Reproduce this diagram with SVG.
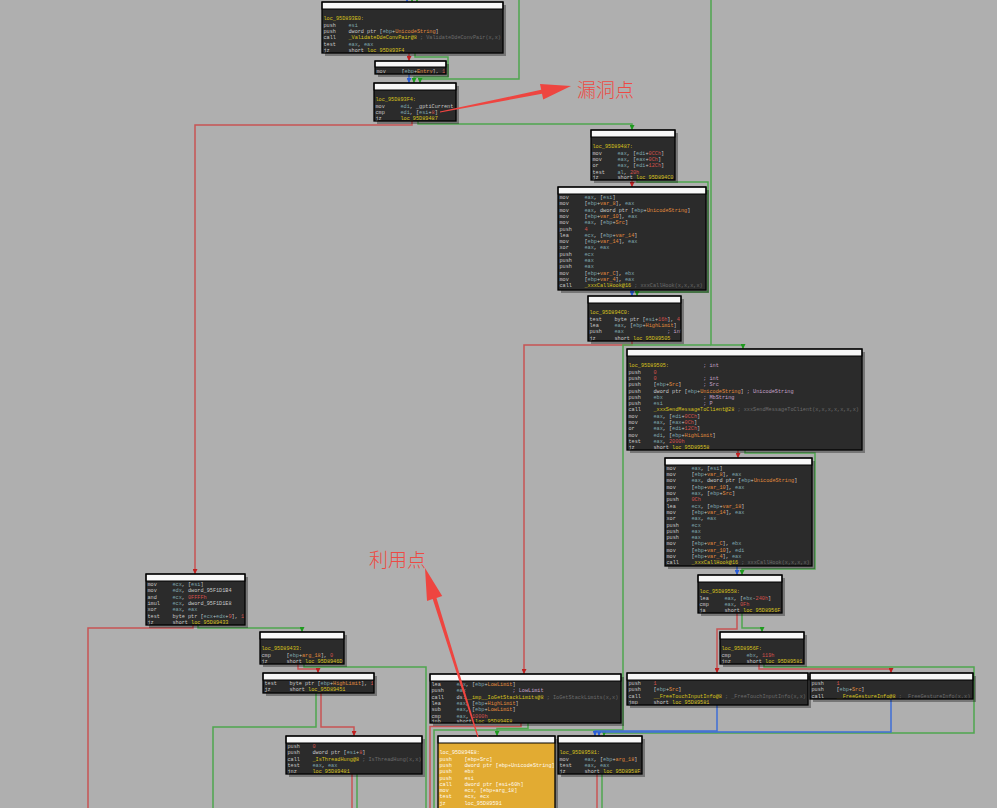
<svg xmlns="http://www.w3.org/2000/svg" width="997" height="808" viewBox="0 0 997 808">
<style>
.bg{fill:#afafaf}
.sh{fill:#000;opacity:.32}
.bd{fill:#2b2b2b}
.yb{fill:#e2ab32}
.hd{fill:#f8f8f8;stroke:#000;stroke-width:1}
.fr{fill:none;stroke:#000;stroke-width:1.3}
.t{font-family:"Liberation Mono","DejaVu Sans Mono",monospace;font-size:5.2px;fill:#c8c8c8;white-space:pre}
.yt{fill:#fffaf0}
.y{fill:#d8c21c}
.r{fill:#7fa6ae}
.o{fill:#e08a3c}
.n{fill:#d4524c}
.c{fill:#6c6c6c}
.p{fill:#c3a2c8}
.e{fill:none;stroke-width:1.5}
.er{stroke:#c85454}
.eg{stroke:#4fa64f}
.eb{stroke:#3f6fd6}
.ann{fill:#ee4540}
.lab{font-family:"Noto Sans CJK SC",sans-serif;font-size:19px;font-weight:300;fill:#ee4a44}
</style>
<defs>
<marker id="mr" viewBox="0 0 6 6" refX="6" refY="3" markerWidth="5" markerHeight="5" markerUnits="userSpaceOnUse" orient="auto"><path d="M0,0L6,3L0,6z" fill="#c02020"/></marker>
<marker id="mg" viewBox="0 0 6 6" refX="6" refY="3" markerWidth="5" markerHeight="5" markerUnits="userSpaceOnUse" orient="auto"><path d="M0,0L6,3L0,6z" fill="#1f9a1f"/></marker>
<marker id="mb" viewBox="0 0 6 6" refX="6" refY="3" markerWidth="5" markerHeight="5" markerUnits="userSpaceOnUse" orient="auto"><path d="M0,0L6,3L0,6z" fill="#2a5ed8"/></marker>
</defs>
<rect class="bg" width="997" height="808"/>

<g id="edges">
<polyline class="e eb" points="407,-4 407,2" marker-end="url(#mb)"/>
<polyline class="e eg" points="412,-4 412,2" marker-end="url(#mg)"/>
<polyline class="e eg" points="417,-4 417,2" marker-end="url(#mg)"/>
<polyline class="e er" points="409,53 409,61" marker-end="url(#mr)"/>
<polyline class="e eg" points="415,53 415,57 448,57 448,77 414,77 414,83" marker-end="url(#mg)"/>
<polyline class="e eg" points="519,-2 519,79 420,79 420,83" marker-end="url(#mg)"/>
<polyline class="e eb" points="409,74 409,83" marker-end="url(#mb)"/>
<polyline class="e er" points="412,121 412,125 195,125 195,574" marker-end="url(#mr)"/>
<polyline class="e eg" points="418,121 418,124 632,124 632,130" marker-end="url(#mg)"/>
<polyline class="e er" points="632,179 632,187" marker-end="url(#mr)"/>
<polyline class="e eg" points="637,179 637,182 708,182 708,292 637,292 637,296" marker-end="url(#mg)"/>
<polyline class="e eb" points="632,290 632,296" marker-end="url(#mb)"/>
<polyline class="e er" points="632,341 632,345 524,345 524,674" marker-end="url(#mr)"/>
<polyline class="e eg" points="711,-2 711,345 743,345 743,349" marker-end="url(#mg)"/>
<polyline class="e eg" points="711,345 623,345 623,730 434,730 434,810"/>
<polyline class="e er" points="738,450 738,458" marker-end="url(#mr)"/>
<polyline class="e eg" points="745,450 745,453 815,453 815,569 742,569 742,575" marker-end="url(#mg)"/>
<polyline class="e eb" points="737,565 737,575" marker-end="url(#mb)"/>
<polyline class="e er" points="737,613 737,629 717,629 717,673" marker-end="url(#mr)"/>
<polyline class="e eg" points="742,613 742,628 762,628 762,632" marker-end="url(#mg)"/>
<polyline class="e er" points="759,664 759,669 891,669 891,673" marker-end="url(#mr)"/>
<polyline class="e eg" points="764,664 764,667 974,667 974,733 604,733 604,736" marker-end="url(#mg)"/>
<polyline class="e eb" points="891,699 891,732 599,732 599,736" marker-end="url(#mb)"/>
<polyline class="e eb" points="717,705 717,731 595,731 595,736" marker-end="url(#mb)"/>
<polyline class="e er" points="597,774 597,810"/>
<polyline class="e eg" points="602,774 602,810"/>
<polyline class="e er" points="193,624 193,628 88,628 88,810"/>
<polyline class="e eg" points="198,624 198,628 302,628 302,632" marker-end="url(#mg)"/>
<polyline class="e er" points="298,664 298,669 318,669 318,673" marker-end="url(#mr)"/>
<polyline class="e eg" points="304,664 304,667 426,667 426,810"/>
<polyline class="e er" points="321,693 321,727 354,727 354,736" marker-end="url(#mr)"/>
<polyline class="e eg" points="316,693 316,727 213,727 213,810"/>
<polyline class="e er" points="352,774 352,810"/>
<polyline class="e eg" points="357,774 357,810"/>
<polyline class="e er" points="521,723 521,726.5 430,726.5 430,810"/>
<polyline class="e eg" points="528,723 528,728.5 497,728.5 497,736" marker-end="url(#mg)"/>
</g>

<g id="b1" transform="translate(322,2)">
<rect class="sh" x="3" y="3" width="181" height="51"/><rect class="bd" width="181" height="51"/><rect class="hd" width="181" height="7"/>
<svg width="181" height="51">
<text class="t" x="1.5" y="18.1"><tspan class="y">loc_95D893E0:</tspan></text>
<text class="t" x="1.5" y="24.5">push    <tspan class="r">esi</tspan></text>
<text class="t" x="1.5" y="30.8">push    dword ptr [<tspan class="r">ebp</tspan>+<tspan class="o">UnicodeString</tspan>]</text>
<text class="t" x="1.5" y="37.1">call    <tspan class="y">_ValidateDdeConvPair@8</tspan><tspan class="c"> ; ValidateDdeConvPair(x,x)</tspan></text>
<text class="t" x="1.5" y="43.5">test    <tspan class="r">eax</tspan>, <tspan class="r">eax</tspan></text>
<text class="t" x="1.5" y="49.8">jz      short <tspan class="y">loc_95D893F4</tspan></text>
</svg>
<rect class="fr" width="181" height="51"/>
</g>

<g id="b2" transform="translate(375,61)">
<rect class="sh" x="3" y="3" width="71" height="13"/><rect class="bd" width="71" height="13"/><rect class="hd" width="71" height="6"/>
<svg width="71" height="13">
<text class="t" x="1.5" y="11.6">mov     [<tspan class="r">ebp</tspan>+<tspan class="o">Entry</tspan>], <tspan class="n">1</tspan></text>
</svg>
<rect class="fr" width="71" height="13"/>
</g>

<g id="b3" transform="translate(374,83)">
<rect class="sh" x="3" y="3" width="82" height="38"/><rect class="bd" width="82" height="38"/><rect class="hd" width="82" height="7"/>
<svg width="82" height="38">
<text class="t" x="1.5" y="18.1"><tspan class="y">loc_95D893F4:</tspan></text>
<text class="t" x="1.5" y="24.5">mov     <tspan class="r">edi</tspan>, _gptiCurrent</text>
<text class="t" x="1.5" y="30.8">cmp     <tspan class="r">edi</tspan>, [<tspan class="r">esi</tspan>+<tspan class="n">8</tspan>]</text>
<text class="t" x="1.5" y="37.1">jz      <tspan class="y">loc_95D89487</tspan></text>
</svg>
<rect class="fr" width="82" height="38"/>
</g>

<g id="b4" transform="translate(591,130)">
<rect class="sh" x="3" y="3" width="84" height="50"/><rect class="bd" width="84" height="50"/><rect class="hd" width="84" height="7"/>
<svg width="84" height="50">
<text class="t" x="1.5" y="18.1"><tspan class="y">loc_95D89487:</tspan></text>
<text class="t" x="1.5" y="24.5">mov     <tspan class="r">eax</tspan>, [<tspan class="r">edi</tspan>+<tspan class="n">0CCh</tspan>]</text>
<text class="t" x="1.5" y="30.8">mov     <tspan class="r">eax</tspan>, [<tspan class="r">eax</tspan>+<tspan class="n">0Ch</tspan>]</text>
<text class="t" x="1.5" y="37.1">or      <tspan class="r">eax</tspan>, [<tspan class="r">edi</tspan>+<tspan class="n">12Ch</tspan>]</text>
<text class="t" x="1.5" y="43.5">test    <tspan class="r">al</tspan>, <tspan class="n">20h</tspan></text>
<text class="t" x="1.5" y="49.3">jz      short <tspan class="y">loc_95D894C0</tspan></text>
</svg>
<rect class="fr" width="84" height="50"/>
</g>

<g id="b5" transform="translate(558,187)">
<rect class="sh" x="3" y="3" width="148" height="103"/><rect class="bd" width="148" height="103"/><rect class="hd" width="148" height="7"/>
<svg width="148" height="103">
<text class="t" x="1.5" y="11.8">mov     <tspan class="r">eax</tspan>, [<tspan class="r">esi</tspan>]</text>
<text class="t" x="1.5" y="18.1">mov     [<tspan class="r">ebp</tspan>+<tspan class="o">var_8</tspan>], <tspan class="r">eax</tspan></text>
<text class="t" x="1.5" y="24.5">mov     <tspan class="r">eax</tspan>, dword ptr [<tspan class="r">ebp</tspan>+<tspan class="o">UnicodeString</tspan>]</text>
<text class="t" x="1.5" y="30.8">mov     [<tspan class="r">ebp</tspan>+<tspan class="o">var_10</tspan>], <tspan class="r">eax</tspan></text>
<text class="t" x="1.5" y="37.1">mov     <tspan class="r">eax</tspan>, [<tspan class="r">ebp</tspan>+<tspan class="o">Src</tspan>]</text>
<text class="t" x="1.5" y="43.5">push    <tspan class="n">4</tspan></text>
<text class="t" x="1.5" y="49.8">lea     <tspan class="r">ecx</tspan>, [<tspan class="r">ebp</tspan>+<tspan class="o">var_14</tspan>]</text>
<text class="t" x="1.5" y="56.1">mov     [<tspan class="r">ebp</tspan>+<tspan class="o">var_14</tspan>], <tspan class="r">eax</tspan></text>
<text class="t" x="1.5" y="62.4">xor     <tspan class="r">eax</tspan>, <tspan class="r">eax</tspan></text>
<text class="t" x="1.5" y="68.8">push    <tspan class="r">ecx</tspan></text>
<text class="t" x="1.5" y="75.1">push    <tspan class="r">eax</tspan></text>
<text class="t" x="1.5" y="81.4">push    <tspan class="r">eax</tspan></text>
<text class="t" x="1.5" y="87.8">mov     [<tspan class="r">ebp</tspan>+<tspan class="o">var_C</tspan>], <tspan class="r">ebx</tspan></text>
<text class="t" x="1.5" y="94.1">mov     [<tspan class="r">ebp</tspan>+<tspan class="o">var_4</tspan>], <tspan class="r">eax</tspan></text>
<text class="t" x="1.5" y="100.4">call    <tspan class="y">_xxxCallHook@16</tspan><tspan class="c"> ; xxxCallHook(x,x,x,x)</tspan></text>
</svg>
<rect class="fr" width="148" height="103"/>
</g>

<g id="b6" transform="translate(588,296)">
<rect class="sh" x="3" y="3" width="93" height="45"/><rect class="bd" width="93" height="45"/><rect class="hd" width="93" height="7"/>
<svg width="93" height="45">
<text class="t" x="1.5" y="18.1"><tspan class="y">loc_95D894C0:</tspan></text>
<text class="t" x="1.5" y="24.5">test    byte ptr [<tspan class="r">esi</tspan>+<tspan class="n">16h</tspan>], <tspan class="n">4</tspan></text>
<text class="t" x="1.5" y="30.8">lea     <tspan class="r">eax</tspan>, [<tspan class="r">ebp</tspan>+<tspan class="o">HighLimit</tspan>]</text>
<text class="t" x="1.5" y="37.1">push    <tspan class="r">eax</tspan>              <tspan class="p">; int</tspan></text>
<text class="t" x="1.5" y="43.5">jz      short <tspan class="y">loc_95D89505</tspan></text>
</svg>
<rect class="fr" width="93" height="45"/>
</g>

<g id="b7" transform="translate(627,349)">
<rect class="sh" x="3" y="3" width="235" height="101"/><rect class="bd" width="235" height="101"/><rect class="hd" width="235" height="7"/>
<svg width="235" height="101">
<text class="t" x="1.5" y="18.1"><tspan class="y">loc_95D89505:</tspan>           <tspan class="p">; int</tspan></text>
<text class="t" x="1.5" y="24.5">push    <tspan class="n">0</tspan></text>
<text class="t" x="1.5" y="30.8">push    <tspan class="n">0</tspan>               <tspan class="p">; int</tspan></text>
<text class="t" x="1.5" y="37.1">push    [<tspan class="r">ebp</tspan>+<tspan class="o">Src</tspan>]       <tspan class="p">; Src</tspan></text>
<text class="t" x="1.5" y="43.5">push    dword ptr [<tspan class="r">ebp</tspan>+<tspan class="o">UnicodeString</tspan>] <tspan class="p">; UnicodeString</tspan></text>
<text class="t" x="1.5" y="49.8">push    <tspan class="r">ebx</tspan>             <tspan class="p">; MbString</tspan></text>
<text class="t" x="1.5" y="56.1">push    <tspan class="r">esi</tspan>             <tspan class="p">; P</tspan></text>
<text class="t" x="1.5" y="62.4">call    <tspan class="y">_xxxSendMessageToClient@28</tspan><tspan class="c"> ; xxxSendMessageToClient(x,x,x,x,x,x,x)</tspan></text>
<text class="t" x="1.5" y="68.8">mov     <tspan class="r">eax</tspan>, [<tspan class="r">edi</tspan>+<tspan class="n">0CCh</tspan>]</text>
<text class="t" x="1.5" y="75.1">mov     <tspan class="r">eax</tspan>, [<tspan class="r">eax</tspan>+<tspan class="n">0Ch</tspan>]</text>
<text class="t" x="1.5" y="81.4">or      <tspan class="r">eax</tspan>, [<tspan class="r">edi</tspan>+<tspan class="n">12Ch</tspan>]</text>
<text class="t" x="1.5" y="87.8">mov     <tspan class="r">edi</tspan>, [<tspan class="r">ebp</tspan>+<tspan class="o">HighLimit</tspan>]</text>
<text class="t" x="1.5" y="94.1">test    <tspan class="r">eax</tspan>, <tspan class="n">2000h</tspan></text>
<text class="t" x="1.5" y="100.2">jz      short <tspan class="y">loc_95D89558</tspan></text>
</svg>
<rect class="fr" width="235" height="101"/>
</g>

<g id="b8" transform="translate(665,458)">
<rect class="sh" x="3" y="3" width="147" height="108"/><rect class="bd" width="147" height="108"/><rect class="hd" width="147" height="7"/>
<svg width="147" height="108">
<text class="t" x="1.5" y="11.8">mov     <tspan class="r">eax</tspan>, [<tspan class="r">esi</tspan>]</text>
<text class="t" x="1.5" y="18.1">mov     [<tspan class="r">ebp</tspan>+<tspan class="o">var_8</tspan>], <tspan class="r">eax</tspan></text>
<text class="t" x="1.5" y="24.4">mov     <tspan class="r">eax</tspan>, dword ptr [<tspan class="r">ebp</tspan>+<tspan class="o">UnicodeString</tspan>]</text>
<text class="t" x="1.5" y="30.7">mov     [<tspan class="r">ebp</tspan>+<tspan class="o">var_10</tspan>], <tspan class="r">eax</tspan></text>
<text class="t" x="1.5" y="37.0">mov     <tspan class="r">eax</tspan>, [<tspan class="r">ebp</tspan>+<tspan class="o">Src</tspan>]</text>
<text class="t" x="1.5" y="43.3">push    <tspan class="n">0Ch</tspan></text>
<text class="t" x="1.5" y="49.6">lea     <tspan class="r">ecx</tspan>, [<tspan class="r">ebp</tspan>+<tspan class="o">var_18</tspan>]</text>
<text class="t" x="1.5" y="55.9">mov     [<tspan class="r">ebp</tspan>+<tspan class="o">var_14</tspan>], <tspan class="r">eax</tspan></text>
<text class="t" x="1.5" y="62.2">xor     <tspan class="r">eax</tspan>, <tspan class="r">eax</tspan></text>
<text class="t" x="1.5" y="68.5">push    <tspan class="r">ecx</tspan></text>
<text class="t" x="1.5" y="74.8">push    <tspan class="r">eax</tspan></text>
<text class="t" x="1.5" y="81.1">push    <tspan class="r">eax</tspan></text>
<text class="t" x="1.5" y="87.4">mov     [<tspan class="r">ebp</tspan>+<tspan class="o">var_C</tspan>], <tspan class="r">ebx</tspan></text>
<text class="t" x="1.5" y="93.7">mov     [<tspan class="r">ebp</tspan>+<tspan class="o">var_10</tspan>], <tspan class="r">edi</tspan></text>
<text class="t" x="1.5" y="100.0">mov     [<tspan class="r">ebp</tspan>+<tspan class="o">var_4</tspan>], <tspan class="r">eax</tspan></text>
<text class="t" x="1.5" y="106.2">call    <tspan class="y">_xxxCallHook@16</tspan><tspan class="c"> ; xxxCallHook(x,x,x,x)</tspan></text>
</svg>
<rect class="fr" width="147" height="108"/>
</g>

<g id="b9" transform="translate(698,575)">
<rect class="sh" x="3" y="3" width="84" height="38"/><rect class="bd" width="84" height="38"/><rect class="hd" width="84" height="7"/>
<svg width="84" height="38">
<text class="t" x="1.5" y="18.1"><tspan class="y">loc_95D89558:</tspan></text>
<text class="t" x="1.5" y="24.5">lea     <tspan class="r">eax</tspan>, [<tspan class="r">ebx</tspan>-<tspan class="n">240h</tspan>]</text>
<text class="t" x="1.5" y="30.8">cmp     <tspan class="r">eax</tspan>, <tspan class="n">0Fh</tspan></text>
<text class="t" x="1.5" y="37.1">ja      short <tspan class="y">loc_95D8956F</tspan></text>
</svg>
<rect class="fr" width="84" height="38"/>
</g>

<g id="b10" transform="translate(720,632)">
<rect class="sh" x="3" y="3" width="84" height="32"/><rect class="bd" width="84" height="32"/><rect class="hd" width="84" height="7"/>
<svg width="84" height="32">
<text class="t" x="1.5" y="18.1"><tspan class="y">loc_95D8956F:</tspan></text>
<text class="t" x="1.5" y="24.5">cmp     <tspan class="r">ebx</tspan>, <tspan class="n">119h</tspan></text>
<text class="t" x="1.5" y="30.8">jnz     short <tspan class="y">loc_95D89581</tspan></text>
</svg>
<rect class="fr" width="84" height="32"/>
</g>

<g id="b11" transform="translate(627,673)">
<rect class="sh" x="3" y="3" width="181" height="32"/><rect class="bd" width="181" height="32"/><rect class="hd" width="181" height="7"/>
<svg width="181" height="32">
<text class="t" x="1.5" y="11.8">push    <tspan class="n">1</tspan></text>
<text class="t" x="1.5" y="18.1">push    [<tspan class="r">ebp</tspan>+<tspan class="o">Src</tspan>]</text>
<text class="t" x="1.5" y="24.5">call    <tspan class="y">__FreeTouchInputInfo@8</tspan><tspan class="c"> ; _FreeTouchInputInfo(x,x)</tspan></text>
<text class="t" x="1.5" y="30.8">jmp     short <tspan class="y">loc_95D89581</tspan></text>
</svg>
<rect class="fr" width="181" height="32"/>
</g>

<g id="b12" transform="translate(810,673)">
<rect class="sh" x="3" y="3" width="163" height="26"/><rect class="bd" width="163" height="26"/><rect class="hd" width="163" height="7"/>
<svg width="163" height="26">
<text class="t" x="1.5" y="11.8">push    <tspan class="n">1</tspan></text>
<text class="t" x="1.5" y="18.1">push    [<tspan class="r">ebp</tspan>+<tspan class="o">Src</tspan>]</text>
<text class="t" x="1.5" y="24.5">call    <tspan class="y">__FreeGestureInfo@8</tspan><tspan class="c"> ; _FreeGestureInfo(x,x)</tspan></text>
</svg>
<rect class="fr" width="163" height="26"/>
</g>

<g id="b13" transform="translate(146,574)">
<rect class="sh" x="3" y="3" width="99" height="51"/><rect class="bd" width="99" height="51"/><rect class="hd" width="99" height="7"/>
<svg width="99" height="51">
<text class="t" x="1.5" y="11.8">mov     <tspan class="r">ecx</tspan>, [<tspan class="r">esi</tspan>]</text>
<text class="t" x="1.5" y="18.1">mov     <tspan class="r">edx</tspan>, dword_95F1D1B4</text>
<text class="t" x="1.5" y="24.5">and     <tspan class="r">ecx</tspan>, <tspan class="n">0FFFFh</tspan></text>
<text class="t" x="1.5" y="30.8">imul    <tspan class="r">ecx</tspan>, dword_95F1D1E8</text>
<text class="t" x="1.5" y="37.1">xor     <tspan class="r">eax</tspan>, <tspan class="r">eax</tspan></text>
<text class="t" x="1.5" y="43.5">test    byte ptr [<tspan class="r">ecx</tspan>+<tspan class="r">edx</tspan>+<tspan class="n">9</tspan>], <tspan class="n">1</tspan></text>
<text class="t" x="1.5" y="49.8">jz      short <tspan class="y">loc_95D89433</tspan></text>
</svg>
<rect class="fr" width="99" height="51"/>
</g>

<g id="b14" transform="translate(260,632)">
<rect class="sh" x="3" y="3" width="84" height="32"/><rect class="bd" width="84" height="32"/><rect class="hd" width="84" height="7"/>
<svg width="84" height="32">
<text class="t" x="1.5" y="18.1"><tspan class="y">loc_95D89433:</tspan></text>
<text class="t" x="1.5" y="24.5">cmp     [<tspan class="r">ebp</tspan>+<tspan class="o">arg_18</tspan>], <tspan class="n">0</tspan></text>
<text class="t" x="1.5" y="30.8">jz      short <tspan class="y">loc_95D8946D</tspan></text>
</svg>
<rect class="fr" width="84" height="32"/>
</g>

<g id="b15" transform="translate(263,673)">
<rect class="sh" x="3" y="3" width="111" height="20"/><rect class="bd" width="111" height="20"/><rect class="hd" width="111" height="7"/>
<svg width="111" height="20">
<text class="t" x="1.5" y="11.8">test    byte ptr [<tspan class="r">ebp</tspan>+<tspan class="o">HighLimit</tspan>], <tspan class="n">1</tspan></text>
<text class="t" x="1.5" y="18.1">jz      short <tspan class="y">loc_95D89451</tspan></text>
</svg>
<rect class="fr" width="111" height="20"/>
</g>

<g id="b16" transform="translate(286,736)">
<rect class="sh" x="3" y="3" width="136" height="38"/><rect class="bd" width="136" height="38"/><rect class="hd" width="136" height="7"/>
<svg width="136" height="38">
<text class="t" x="1.5" y="11.8">push    <tspan class="n">0</tspan></text>
<text class="t" x="1.5" y="18.1">push    dword ptr [<tspan class="r">esi</tspan>+<tspan class="n">8</tspan>]</text>
<text class="t" x="1.5" y="24.5">call    <tspan class="y">_IsThreadHung@8</tspan><tspan class="c"> ; IsThreadHung(x,x)</tspan></text>
<text class="t" x="1.5" y="30.8">test    <tspan class="r">eax</tspan>, <tspan class="r">eax</tspan></text>
<text class="t" x="1.5" y="37.1">jnz     <tspan class="y">loc_95D89481</tspan></text>
</svg>
<rect class="fr" width="136" height="38"/>
</g>

<g id="b17" transform="translate(430,674)">
<rect class="sh" x="3" y="3" width="191" height="49"/><rect class="bd" width="191" height="49"/><rect class="hd" width="191" height="7"/>
<svg width="191" height="49">
<text class="t" x="1.5" y="11.8">lea     <tspan class="r">eax</tspan>, [<tspan class="r">ebp</tspan>+<tspan class="o">LowLimit</tspan>]</text>
<text class="t" x="1.5" y="18.1">push    <tspan class="r">eax</tspan>               <tspan class="p">; LowLimit</tspan></text>
<text class="t" x="1.5" y="24.5">call    ds:<tspan class="y">__imp__IoGetStackLimits@8</tspan><tspan class="c"> ; IoGetStackLimits(x,x)</tspan></text>
<text class="t" x="1.5" y="30.8">lea     <tspan class="r">eax</tspan>, [<tspan class="r">ebp</tspan>+<tspan class="o">HighLimit</tspan>]</text>
<text class="t" x="1.5" y="37.1">sub     <tspan class="r">eax</tspan>, [<tspan class="r">ebp</tspan>+<tspan class="o">LowLimit</tspan>]</text>
<text class="t" x="1.5" y="43.5">cmp     <tspan class="r">eax</tspan>, <tspan class="n">1000h</tspan></text>
<text class="t" x="1.5" y="48.5">jnb     short <tspan class="y">loc_95D894E8</tspan></text>
</svg>
<rect class="fr" width="191" height="49"/>
</g>

<g id="b18" transform="translate(438,736)">
<rect class="sh" x="3" y="3" width="117" height="80"/><rect class="yb" width="117" height="80"/><rect class="hd" width="117" height="7"/>
<svg width="117" height="80">
<text class="t yt" x="1.5" y="18.1">loc_95D894E8:</text>
<text class="t yt" x="1.5" y="24.5">push    [ebp+Src]</text>
<text class="t yt" x="1.5" y="30.8">push    dword ptr [ebp+UnicodeString]</text>
<text class="t yt" x="1.5" y="37.1">push    ebx</text>
<text class="t yt" x="1.5" y="43.5">push    esi</text>
<text class="t yt" x="1.5" y="49.8">call    dword ptr [esi+60h]</text>
<text class="t yt" x="1.5" y="56.1">mov     ecx, [ebp+arg_18]</text>
<text class="t yt" x="1.5" y="62.4">test    ecx, ecx</text>
<text class="t yt" x="1.5" y="68.8">jz      loc_95D89591</text>
</svg>
<rect class="fr" width="117" height="80"/>
</g>

<g id="b19" transform="translate(558,736)">
<rect class="sh" x="3" y="3" width="84" height="38"/><rect class="bd" width="84" height="38"/><rect class="hd" width="84" height="7"/>
<svg width="84" height="38">
<text class="t" x="1.5" y="18.1"><tspan class="y">loc_95D89581:</tspan></text>
<text class="t" x="1.5" y="24.5">mov     <tspan class="r">eax</tspan>, [<tspan class="r">ebp</tspan>+<tspan class="o">arg_18</tspan>]</text>
<text class="t" x="1.5" y="30.8">test    <tspan class="r">eax</tspan>, <tspan class="r">eax</tspan></text>
<text class="t" x="1.5" y="37.1">jz      short <tspan class="y">loc_95D8958F</tspan></text>
</svg>
<rect class="fr" width="84" height="38"/>
</g>

<g id="annotations">
<polygon class="ann" points="439.9,111.5 541.2,89.8 540,84 571,86 543.2,99.6 542,93.8 440.1,112.5"/>
<text class="lab" x="577" y="97">漏洞点</text>
<polygon class="ann" points="477.4,737.2 432.7,599.1 427,600.9 425,568 442.2,596.1 436.5,597.9 478.6,736.8"/>
<text class="lab" x="369" y="567">利用点</text>
</g>
</svg>
